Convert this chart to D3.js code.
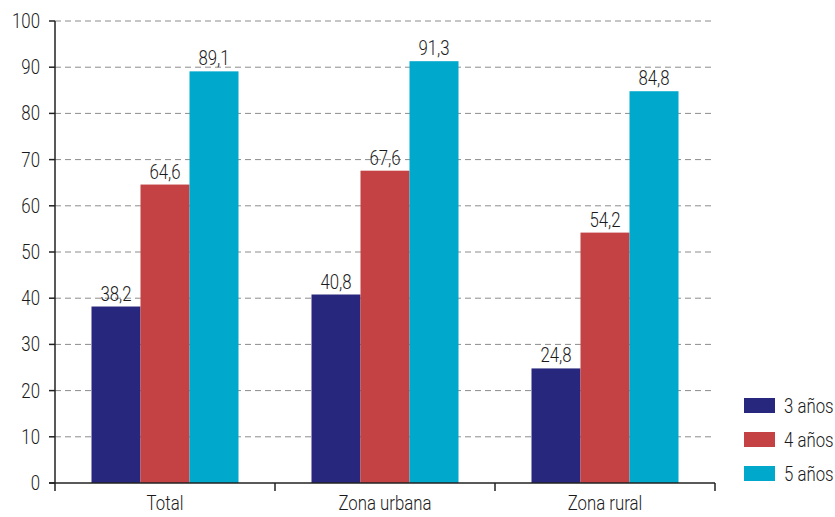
<!DOCTYPE html>
<html lang="es">
<head>
  <meta charset="UTF-8">
  <title>Asistencia por edad</title>
  <script src="https://d3js.org/d3.v7.min.js"></script>
  <style>
    body { margin: 0; background: #fff; }
    svg text { font-family: Roboto, "Noto Sans", sans-serif; font-size: 20px; font-weight: 300; fill: #1a1a1a; }
  </style>
</head>
<body>
  <svg id="chart"></svg>
  <script>
  // data
  const categories = ["Total", "Zona urbana", "Zona rural"];
  const series = ["3 años", "4 años", "5 años"];
  const anos3 = [38.2, 40.8, 24.8];
  const anos4 = [64.6, 67.6, 54.2];
  const anos5 = [89.1, 91.3, 84.8];
  const yTicks = [0, 10, 20, 30, 40, 50, 60, 70, 80, 90, 100];
  const colors = ["#27277d", "#c44244", "#00a8cc"];

  const values = [anos3, anos4, anos5];
  const rows = categories.map((c, i) => ({cat: c, vals: series.map((s, j) => ({s: s, v: values[j][i]}))}));

  const width = 835, height = 517;
  const margin = {top: 21, right: 120, bottom: 34, left: 55};
  const squeeze = 0.84; // condensed look

  const svg = d3.select("#chart").attr("width", width).attr("height", height);

  const x0 = d3.scaleBand().domain(categories).range([margin.left, width - margin.right]);
  const x1 = d3.scaleBand().domain(series).range([36.5, x0.bandwidth() - 36.5]);
  const y = d3.scaleLinear().domain([0, 100]).range([height - margin.bottom, margin.top]);

  function place(sel, fx, fy) {
    return sel.attr("transform", (d, i) => "translate(" + fx(d, i) + "," + fy(d, i) + ") scale(" + squeeze + ",1)");
  }

  // grid
  svg.append("g").selectAll("line")
    .data(yTicks.filter(d => d > 0))
    .enter().append("line")
    .attr("x1", margin.left).attr("x2", width - margin.right)
    .attr("y1", d => y(d)).attr("y2", d => y(d))
    .attr("stroke", "#8c8c8c").attr("stroke-dasharray", "6,4");

  // bars
  const groups = svg.append("g").selectAll("g")
    .data(rows).enter().append("g")
    .attr("transform", d => "translate(" + x0(d.cat) + ",0)");

  groups.selectAll("rect")
    .data(d => d.vals).enter().append("rect")
    .attr("x", d => x1(d.s))
    .attr("width", x1.bandwidth())
    .attr("y", d => y(d.v))
    .attr("height", d => y(0) - y(d.v))
    .attr("fill", (d, i) => colors[i]);

  place(groups.selectAll("text")
    .data(d => d.vals).enter().append("text")
    .attr("text-anchor", "middle")
    .text(d => d.v.toFixed(1).replace(".", ",")),
    d => x1(d.s) + x1.bandwidth() / 2, d => y(d.v) - 6);

  // y axis
  const yAxis = svg.append("g");
  yAxis.append("line")
    .attr("x1", margin.left).attr("x2", margin.left)
    .attr("y1", y(100)).attr("y2", y(0))
    .attr("stroke", "#222").attr("stroke-width", 1.5);
  yAxis.selectAll(".tk").data(yTicks).enter().append("line")
    .attr("x1", margin.left - 6).attr("x2", margin.left)
    .attr("y1", d => y(d)).attr("y2", d => y(d))
    .attr("stroke", "#222").attr("stroke-width", 1.5);
  place(yAxis.selectAll(".lb").data(yTicks).enter().append("text")
    .attr("text-anchor", "end")
    .attr("dy", "0.35em")
    .text(d => d),
    d => margin.left - 15, d => y(d));

  // x axis
  const xAxis = svg.append("g")
    .attr("transform", "translate(0," + y(0) + ")");
  xAxis.append("line")
    .attr("x1", margin.left - 6).attr("x2", width - margin.right)
    .attr("stroke", "#222").attr("stroke-width", 1.5);
  const xEdges = [margin.left].concat(categories.map(c => x0(c) + x0.bandwidth()));
  xAxis.selectAll(".sep").data(xEdges).enter().append("line")
    .attr("x1", d => d).attr("x2", d => d)
    .attr("y1", 0).attr("y2", 8)
    .attr("stroke", "#222").attr("stroke-width", 1.5);
  place(xAxis.selectAll(".lab").data(categories).enter().append("text")
    .attr("text-anchor", "middle")
    .text(d => d),
    d => x0(d) + x0.bandwidth() / 2, () => 27);

  // legend
  const legend = svg.append("g").attr("transform", "translate(744,398)");
  const li = legend.selectAll("g").data(series).enter().append("g")
    .attr("transform", (d, i) => "translate(0," + i * 34 + ")");
  li.append("rect").attr("width", 31).attr("height", 15).attr("fill", (d, i) => colors[i]);
  place(li.append("text").text(d => d), () => 40, () => 15);
  </script>
</body>
</html>
